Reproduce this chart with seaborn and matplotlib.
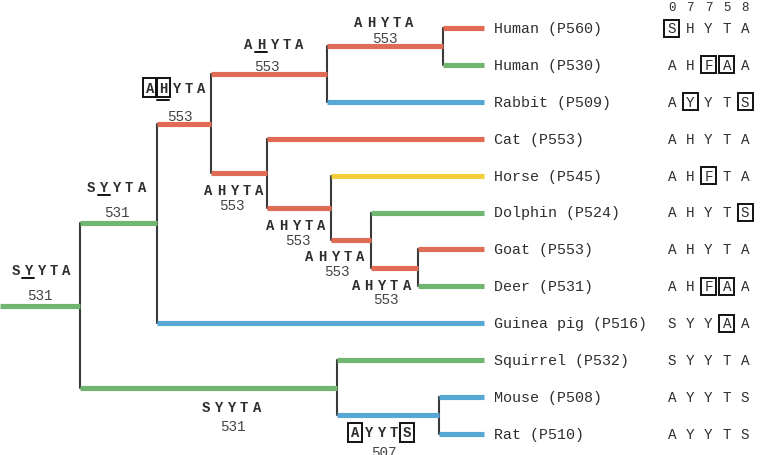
import pandas as pd
import matplotlib.pyplot as plt
import seaborn as sns
from matplotlib.patches import Rectangle

# leaves, listed top to bottom
leaf_names = ['Human (P560)', 'Human (P530)', 'Rabbit (P509)', 'Cat (P553)',
              'Horse (P545)', 'Dolphin (P524)', 'Goat (P553)', 'Deer (P531)',
              'Guinea pig (P516)', 'Squirrel (P532)', 'Mouse (P508)', 'Rat (P510)']
leaf_parent = ['n5', 'n5', 'n4', 'n6', 'n7', 'n8', 'n9', 'n9', 'n2', 'n11', 'n10', 'n10']
leaf_colour = ['red', 'green', 'blue', 'red', 'yellow', 'green', 'red', 'green',
               'blue', 'green', 'blue', 'blue']
leaf_seq = ['SHYTA', 'AHFAA', 'AYYTS', 'AHYTA', 'AHFTA', 'AHYTS', 'AHYTA', 'AHFAA',
            'SYYAA', 'SYYTA', 'AYYTS', 'AYYTS']
leaf_boxed = [[0], [2, 3], [1, 4], [], [2], [4], [], [2, 3], [3], [], [], []]
leaf_depth = 484
site_header = ['0', '7', '7', '5', '8']

# internal nodes (branch leading into each node)
node_names = ['n1', 'n2', 'n3', 'n4', 'n5', 'n6', 'n7', 'n8', 'n9', 'n11', 'n10']
node_parent = [None, 'n1', 'n2', 'n3', 'n4', 'n3', 'n6', 'n7', 'n8', 'n1', 'n11']
node_depth = [80, 157, 211, 327, 443, 267, 331, 371, 418, 337, 439]
node_colour = ['green', 'green', 'red', 'red', 'red', 'red', 'red', 'red', 'red',
               'green', 'blue']
node_seq = ['SYYTA', 'SYYTA', 'AHYTA', 'AHYTA', 'AHYTA', 'AHYTA', 'AHYTA', 'AHYTA',
            'AHYTA', 'SYYTA', 'AYYTS']
node_score = [531, 531, 553, 553, 553, 553, 553, 553, 553, 531, 507]
node_boxed = [[], [], [0, 1], [], [], [], [], [], [], [], [0, 4]]
node_underline = [[1], [1], [1], [1], [], [], [], [], [], [], []]

palette = {'red': '#e06c56', 'green': '#70b671', 'blue': '#58a8d6', 'yellow': '#f2cd3c'}
ink = '#2e2e2e'
MONO = 'Liberation Mono'

# label placement (pixels, relative to branch midpoint / branch y)
label_off = {
    'n1': (1, -36, 0, -11), 'n2': (-2, -36, -2, -11), 'n3': (-8, -36, -4, -8),
    'n4': (5, -30, -2, -8.5), 'n5': (-1, -24.5, 0, -8.5), 'n6': (-5, 17, -7, 32),
    'n7': (-3, 17.5, -1, 32), 'n8': (-16, 15.5, -14, 30.5), 'n9': (-13, 17.5, -9, 31),
    'n11': (23, 19, 24, 38), 'n10': (-7, 17, -4, 36.5),
}

ROW = 36.9   # pixels per leaf row
TOP = 29     # pixel y of first leaf


def py(px):
    return px / ROW


# tree geometry
depth = dict(zip(node_names, node_depth))
children = {n: [] for n in node_names}
ypos = {}
for i, (name, par) in enumerate(zip(leaf_names, leaf_parent)):
    children[par].append(name)
    ypos[name] = i
    depth[name] = leaf_depth
for n, par in zip(node_names, node_parent):
    if par is not None:
        children[par].append(n)


def node_y(n):
    if n not in ypos:
        ys = [node_y(c) for c in children[n]]
        ypos[n] = (min(ys) + max(ys)) / 2
    return ypos[n]


for n in node_names:
    node_y(n)

parent_of = dict(zip(node_names, node_parent))
parent_of.update(dict(zip(leaf_names, leaf_parent)))
colour_of = dict(zip(node_names, node_colour))
colour_of.update(dict(zip(leaf_names, leaf_colour)))

h_rows, v_rows = [], []
for k, n in enumerate(node_names + leaf_names):
    par = parent_of[n]
    x0 = 0 if par is None else depth[par]
    h_rows += [(k, x0, ypos[n], colour_of[n]), (k, depth[n], ypos[n], colour_of[n])]
for k, n in enumerate(node_names):
    ys = [ypos[c] for c in children[n]]
    v_rows += [(k, depth[n], min(ys)), (k, depth[n], max(ys))]
h_df = pd.DataFrame(h_rows, columns=['seg', 'x', 'y', 'colour'])
v_df = pd.DataFrame(v_rows, columns=['seg', 'x', 'y'])

sns.set_style('white')
fig = plt.figure(figsize=(7.72, 4.56), dpi=100)
ax = fig.add_axes([0, 0, 1, 1])

sns.lineplot(data=v_df, x='x', y='y', units='seg', estimator=None, sort=False,
             color='#3a3a3a', linewidth=1.5, legend=False, ax=ax, zorder=2)
sns.lineplot(data=h_df, x='x', y='y', units='seg', hue='colour', palette=palette,
             estimator=None, sort=False, linewidth=3.7, legend=False, ax=ax,
             zorder=3, solid_capstyle='butt')


def letters(cx, y, seq, pitch, boxed=(), under=(), fs=10, weight='normal',
            bw=14, bh=18):
    n = len(seq)
    for i, ch in enumerate(seq):
        x = cx + (i - (n - 1) / 2) * pitch
        ax.text(x, y, ch, ha='center', va='center', fontsize=fs, fontweight=weight,
                family=MONO, color=ink)
        if i in boxed:
            ax.add_patch(Rectangle((x - bw / 2, y - py(bh / 2)), bw, py(bh),
                                   fill=False, ec='#111111', lw=1.4, zorder=4))
        if i in under:
            uy = y + py(bh / 2 + 3 if i in boxed else 8)
            ax.plot([x - 6, x + 6], [uy, uy], color='#111111', lw=1.4)


# ancestral reconstructions on internal branches
for i, n in enumerate(node_names):
    par = node_parent[i]
    x0 = 0 if par is None else depth[par]
    mid = (x0 + depth[n]) / 2
    sdx, sdy, ndx, ndy = label_off[n]
    yb = ypos[n]
    letters(mid + sdx, yb + py(sdy), node_seq[i], 12.8, node_boxed[i],
            node_underline[i], fs=10, weight='bold', bw=14, bh=19)
    ax.text(mid + ndx, yb + py(ndy), str(node_score[i]), ha='center', va='center',
            fontsize=10.3, family=MONO, color='#444444')

# leaf labels and residues
for i, name in enumerate(leaf_names):
    ax.text(494, i, name, ha='left', va='center', fontsize=10.8, family=MONO,
            color=ink)
    letters(708.5, i, leaf_seq[i], 18.3, leaf_boxed[i], fs=10.3, bw=15, bh=17)
letters(708.5, py(8 - TOP), site_header, 18.3, fs=9)

ax.set_xlim(0, 772)
ax.set_ylim(py(456 - TOP), py(-TOP))
ax.axis('off')
fig.savefig('out.png', dpi=100, facecolor='white')
